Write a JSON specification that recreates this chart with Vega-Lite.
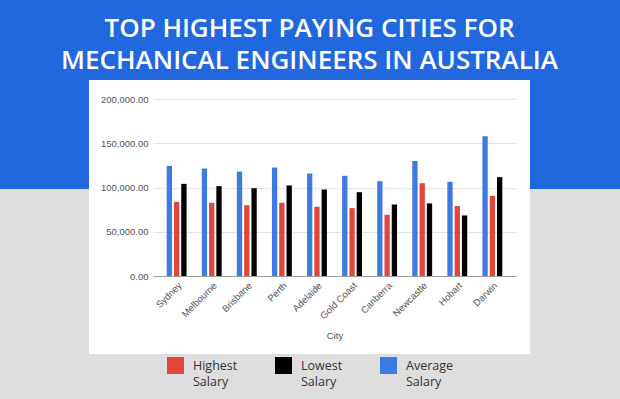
{
  "$schema": "https://vega.github.io/schema/vega-lite/v6.json",
  "autosize": {"type": "none"},
  "background": "#dedede",
  "padding": {"left": 44, "top": 35, "right": 45, "bottom": 0},
  "width": 531,
  "height": 364,
  "config": {
    "font": "Liberation Sans",
    "style": {"guide-label": {"lineHeight": 16}}
  },
  "view": {
    "fill": "#ffffff",
    "strokeWidth": 90,
    "stroke": {
      "gradient": "linear", "x1": 0, "y1": 0, "x2": 0, "y2": 1,
      "stops": [
        {"offset": 0, "color": "#2167de"},
        {"offset": 0.4231, "color": "#2167de"},
        {"offset": 0.4231, "color": "#dedede"},
        {"offset": 1, "color": "#dedede"}
      ]
    }
  },
  "title": {
    "text": ["TOP HIGHEST PAYING CITIES FOR", "MECHANICAL ENGINEERS IN AUSTRALIA"],
    "anchor": "middle", "frame": "group", "offset": -39,
    "color": "#ffffff", "font": "Open Sans", "fontSize": 26, "fontWeight": 600, "lineHeight": 32
  },
  "data": {"values": [
    {"City": "Sydney", "Series": "Average Salary", "Salary": 124400},
    {"City": "Sydney", "Series": "Highest Salary", "Salary": 83800},
    {"City": "Sydney", "Series": "Lowest Salary", "Salary": 104100},
    {"City": "Melbourne", "Series": "Average Salary", "Salary": 121400},
    {"City": "Melbourne", "Series": "Highest Salary", "Salary": 82700},
    {"City": "Melbourne", "Series": "Lowest Salary", "Salary": 101500},
    {"City": "Brisbane", "Series": "Average Salary", "Salary": 118000},
    {"City": "Brisbane", "Series": "Highest Salary", "Salary": 80000},
    {"City": "Brisbane", "Series": "Lowest Salary", "Salary": 99200},
    {"City": "Perth", "Series": "Average Salary", "Salary": 122600},
    {"City": "Perth", "Series": "Highest Salary", "Salary": 82700},
    {"City": "Perth", "Series": "Lowest Salary", "Salary": 102300},
    {"City": "Adelaide", "Series": "Average Salary", "Salary": 115800},
    {"City": "Adelaide", "Series": "Highest Salary", "Salary": 78200},
    {"City": "Adelaide", "Series": "Lowest Salary", "Salary": 97700},
    {"City": "Gold Coast", "Series": "Average Salary", "Salary": 113200},
    {"City": "Gold Coast", "Series": "Highest Salary", "Salary": 76700},
    {"City": "Gold Coast", "Series": "Lowest Salary", "Salary": 94700},
    {"City": "Canberra", "Series": "Average Salary", "Salary": 107100},
    {"City": "Canberra", "Series": "Highest Salary", "Salary": 69200},
    {"City": "Canberra", "Series": "Lowest Salary", "Salary": 80800},
    {"City": "Newcastle", "Series": "Average Salary", "Salary": 130000},
    {"City": "Newcastle", "Series": "Highest Salary", "Salary": 104900},
    {"City": "Newcastle", "Series": "Lowest Salary", "Salary": 82000},
    {"City": "Hobart", "Series": "Average Salary", "Salary": 106400},
    {"City": "Hobart", "Series": "Highest Salary", "Salary": 79000},
    {"City": "Hobart", "Series": "Lowest Salary", "Salary": 68400},
    {"City": "Darwin", "Series": "Average Salary", "Salary": 157900},
    {"City": "Darwin", "Series": "Highest Salary", "Salary": 90600},
    {"City": "Darwin", "Series": "Lowest Salary", "Salary": 111700}
  ]},
  "mark": {"type": "bar"},
  "encoding": {
    "x": {
      "field": "City", "type": "nominal", "sort": null,
      "scale": {"range": [109, 472], "paddingInner": 0.433, "paddingOuter": 0.39},
      "axis": {
        "title": "City", "labelAngle": -45, "labelFontSize": 9.5, "labelColor": "#555555",
        "ticks": false, "domainColor": "#9e9e9e", "labelPadding": 4, "offset": -123,
        "titleFontSize": 9.5, "titleFontWeight": "normal", "titleColor": "#555555", "titlePadding": 10
      }
    },
    "xOffset": {
      "field": "Series", "type": "nominal",
      "sort": ["Average Salary", "Highest Salary", "Lowest Salary"],
      "scale": {"paddingInner": 0.27, "paddingOuter": 0}
    },
    "y": {
      "field": "Salary", "type": "quantitative",
      "scale": {"domain": [0, 200000], "range": [241, 64]},
      "axis": {
        "title": null, "format": ",.2f", "values": [0, 50000, 100000, 150000, 200000],
        "labelFontSize": 9.5, "labelColor": "#555555", "domain": false, "ticks": false,
        "labelPadding": 5, "gridColor": "#e3e3e3", "offset": -109
      }
    },
    "color": {
      "field": "Series", "type": "nominal",
      "scale": {"domain": ["Highest Salary", "Lowest Salary", "Average Salary"], "range": ["#e0463c", "#000000", "#3d7be2"]},
      "legend": {
        "title": null, "orient": "none", "legendX": 123, "legendY": 322, "direction": "horizontal",
        "symbolType": "square", "symbolSize": 289, "symbolStrokeWidth": 0, "symbolOpacity": 1,
        "labelExpr": "split(datum.label, ' ')", "labelFont": "Open Sans", "labelFontSize": 12.5,
        "labelColor": "#333333", "labelOffset": 9, "columnPadding": 37, "labelLimit": 120
      }
    }
  }
}
